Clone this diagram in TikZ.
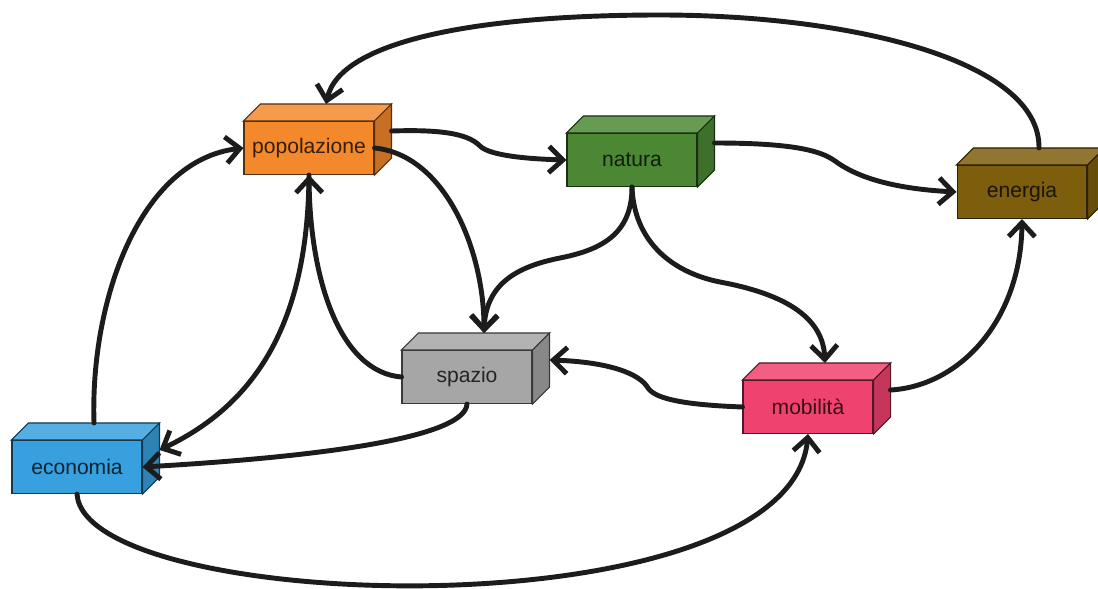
\documentclass[tikz,border=0pt]{standalone}
\usepackage{fontspec}
\setmainfont{Liberation Sans}
\usepackage{tikz}
\usetikzlibrary{arrows.meta,positioning}
\usepackage{xcolor}

\definecolor{popc}{RGB}{243,137,43}
\definecolor{natc}{RGB}{76,136,52}
\definecolor{enec}{RGB}{124,94,12}
\definecolor{spac}{RGB}{166,166,166}
\definecolor{mobc}{RGB}{240,66,110}
\definecolor{ecoc}{RGB}{56,160,222}
\definecolor{linkc}{RGB}{28,28,28}

\begin{document}
\begin{tikzpicture}[
    x=0.02cm, y=-0.02cm,
    cube/.style={rectangle, draw=#1!35!black, fill=#1, text=#1!22!black, line width=0.6pt,
        minimum width=2.6cm, minimum height=1.06cm, font=\fontsize{12}{14}\selectfont},
    link/.style={draw=linkc, line width=2.8pt, line cap=round,
        -{Straight Barb[length=8pt,width=15pt]}}
]
    \useasboundingbox (0,0) rectangle (1098,588);

    % boxes (front faces)
    \node[cube=popc] (pop) at (309,148) {popolazione};
    \node[cube=natc] (nat) at (632,160) {natura};
    \node[cube=enec] (ene) at (1022,192) {energia};
    \node[cube=spac] (spa) at (467,377) {spazio};
    \node[cube=mobc] (mob) at (808,407) {mobilità};
    \node[cube=ecoc] (eco) at (77,467) {economia};

    % top and right faces, plus anchors on the back edges
    \foreach \n/\c in {pop/popc, nat/natc, ene/enec, spa/spac, mob/mobc, eco/ecoc} {
        \filldraw[fill=\c!85!white, draw=\c!35!black, line width=0.6pt]
            (\n.north west) -- ++(17,-17) -- ([shift={(17,-17)}]\n.north east)
            -- (\n.north east) -- cycle;
        \filldraw[fill=\c!82!black, draw=\c!35!black, line width=0.6pt]
            (\n.north east) -- ++(17,-17) -- ([shift={(17,-17)}]\n.south east)
            -- (\n.south east) -- cycle;
        \coordinate (\n-top) at ([shift={(17,-17)}]\n.north);
        \coordinate (\n-side) at ([shift={(17,-17)}]\n.east);
    }

    % links
    \draw[link] (ene-top) .. controls (1040,60) and (850,15) .. (660,15)
        .. controls (480,15) and (340,40) .. (pop-top);
    \draw[link] (pop-side) .. controls (450,129) and (470,136) .. (480,146)
        .. controls (490,156) and (530,159) .. (nat.west);
    \draw[link] (nat-side) .. controls (790,143) and (820,150) .. (835,161)
        .. controls (850,172) and (880,188) .. (ene.west);
    \draw[link] (pop.east) .. controls (445,155) and (484,250) .. (spa-top);
    \draw[link] (nat.south) .. controls (632,235) and (600,250) .. (560,258)
        .. controls (520,266) and (486,282) .. (spa-top);
    \draw[link] (nat.south) .. controls (634,240) and (670,272) .. (720,282)
        .. controls (790,295) and (823,320) .. (mob-top);
    \draw[link] (spa.west) .. controls (340,372) and (310,280) .. (pop.south);
    \draw[link] (pop.south) .. controls (308,310) and (265,400) .. (eco-side);
    \draw[link] (spa.south) .. controls (465,440) and (300,458) .. (eco.east);
    \draw[link] (eco-top) .. controls (90,300) and (140,160) .. (pop.west);
    \draw[link] (eco.south) .. controls (85,615) and (790,635) .. (mob.south);
    \draw[link] (mob.west) .. controls (690,405) and (656,400) .. (648,388)
        .. controls (640,374) and (610,362) .. (spa-side);
    \draw[link] (mob-side) .. controls (960,386) and (1021,320) .. (ene.south);
\end{tikzpicture}
\end{document}
